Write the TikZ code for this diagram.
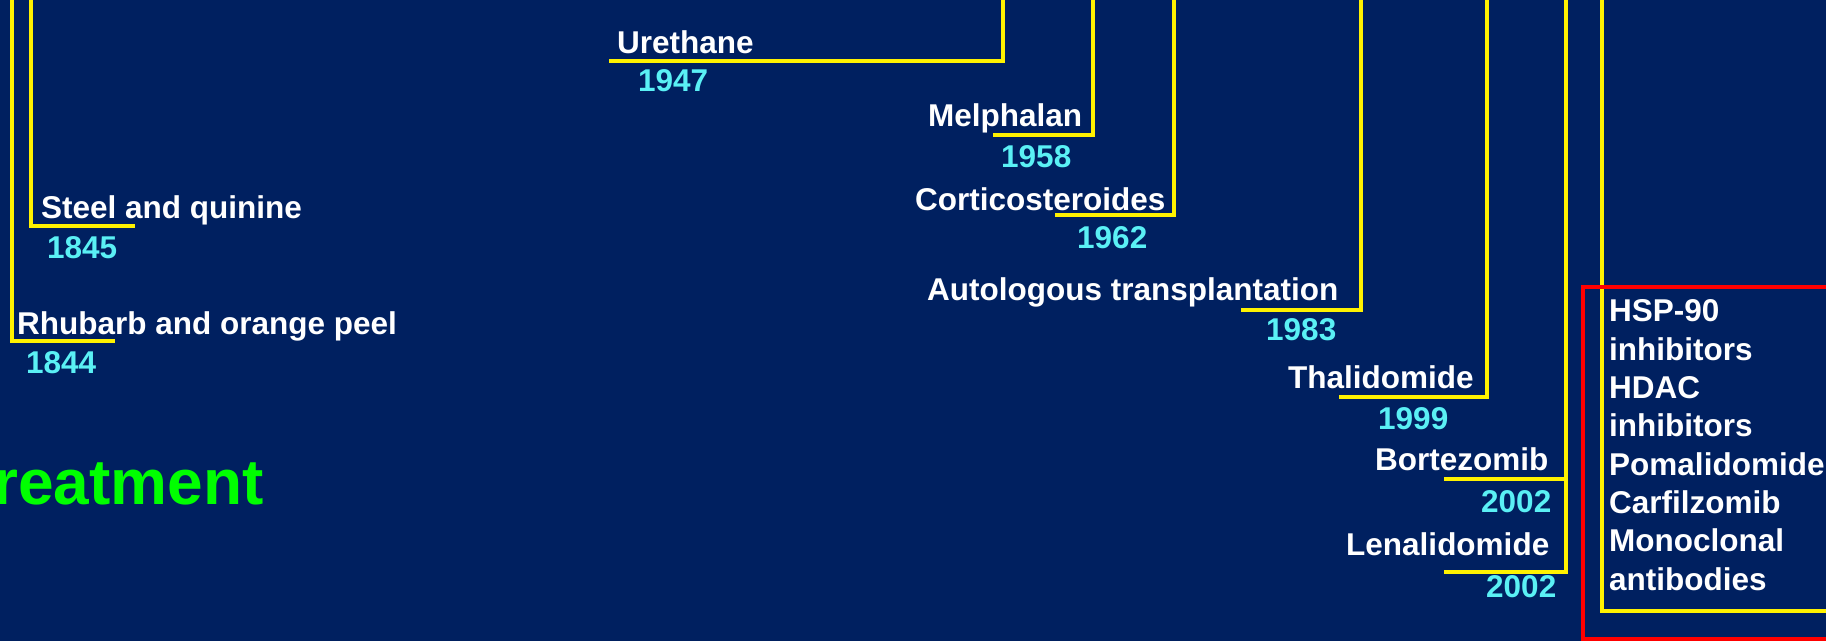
\documentclass[tikz,border=0pt]{standalone}
\usepackage{fontspec}
\setmainfont{Liberation Sans}
\definecolor{slidebg}{RGB}{0,32,96}
\definecolor{yearcyan}{RGB}{90,240,245}

\begin{document}
\begin{tikzpicture}[x=1pt,y=-1pt,line cap=butt,line join=miter,
    lbl/.style={text=white,inner sep=0pt,anchor=base west,
      font=\bfseries\fontsize{31.5}{38.3}\selectfont},
    yr/.style={lbl,text=yearcyan},
    brk/.style={draw=yellow,line width=3.3pt}]
  \fill[slidebg] (0,0) rectangle (1826,641);
  \useasboundingbox (0,0) rectangle (1826,641);
  \clip (0,0) rectangle (1826,641);

  \foreach \nm/\txt/\tx/\ty/\yt/\yx/\yy/\vx/\hy/\hx in {
      rhubarb/Rhubarb and orange peel/17/334/1844/26/373/12/341/115,
      steel/Steel and quinine/41/218/1845/47/258/31/226/135,
      urethane/Urethane/617/53/1947/638/91/1003/61/609,
      melphalan/Melphalan/928/126/1958/1001/167/1093/135/993,
      cortico/Corticosteroides/915/210/1962/1077/248/1174/215/1055,
      auto/Autologous transplantation/927/300/1983/1266/340/1361/310/1241,
      thalido/Thalidomide/1288/388/1999/1378/429/1487/397/1339,
      bortez/Bortezomib/1375/470/2002/1481/512/1566/479/1444,
      lenalid/Lenalidomide/1346/555/2002/1486/597/1566/572/1444} {
    \node[lbl] (\nm) at (\tx,\ty) {\txt};
    \node[yr] (\nm-year) at (\yx,\yy) {\yt};
    \coordinate (\nm-top) at (\vx,-5);
    \coordinate (\nm-end) at (\hx,\hy);
    \draw[brk] (\nm-top) |- (\nm-end);
  }

  \node[text=green,inner sep=0pt,anchor=base east,
    font=\bfseries\fontsize{64}{70}\selectfont] (treat) at (264,504) {reatment};

  \coordinate (new-top) at (1602,-5);
  \coordinate (new-end) at (1840,611);
  \draw[brk] (new-top) |- (new-end);
  \draw[red,line width=4.5pt] (1850,287) -| (1583,639) -- (1850,639);
  \node[lbl,align=left] (newdrugs) at (1609,590)
    {HSP-90\\inhibitors\\HDAC\\inhibitors\\Pomalidomide\\Carfilzomib\\Monoclonal\\antibodies};
\end{tikzpicture}
\end{document}
